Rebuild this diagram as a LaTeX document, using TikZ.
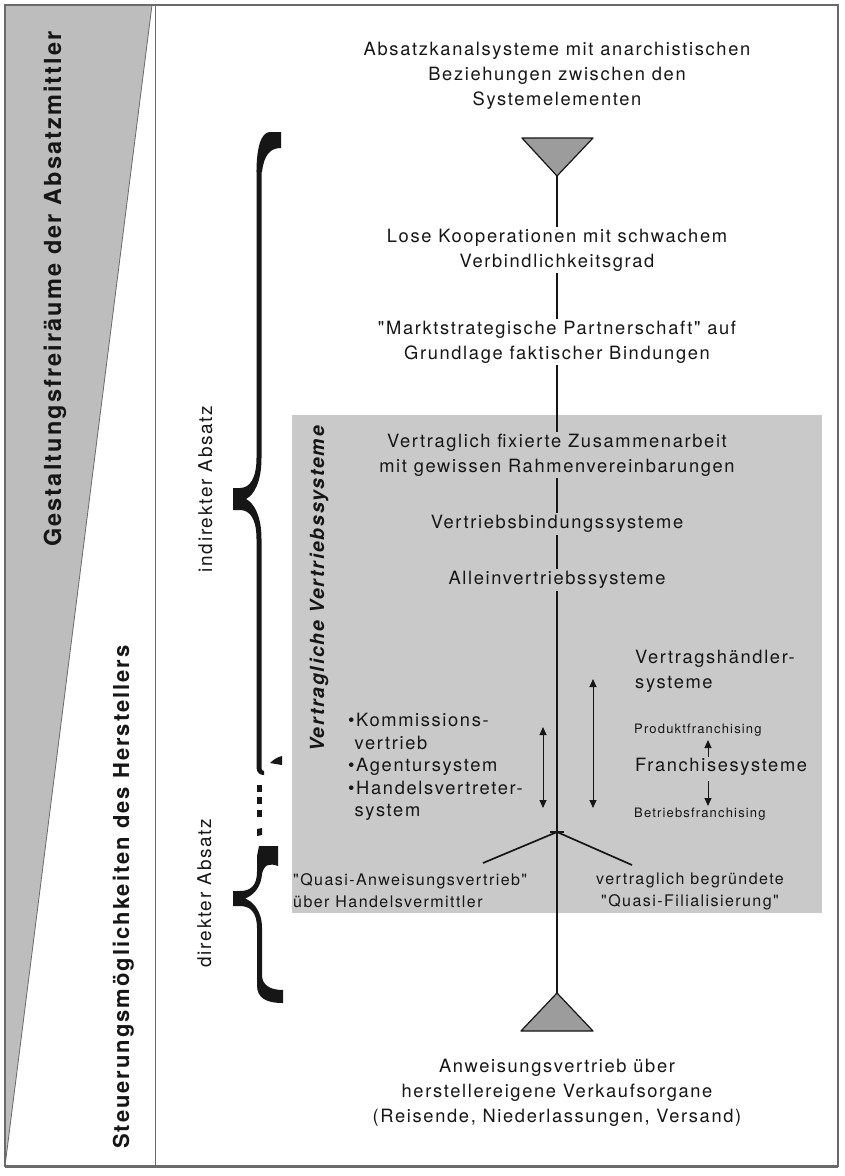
\documentclass[tikz,border=0pt]{standalone}
\usepackage{fontspec}
\setmainfont{TeX Gyre Heros}[LetterSpace=9, Ligatures=TeXOff]
\usetikzlibrary{arrows.meta}

\definecolor{ink}{HTML}{161616}
\definecolor{wedgegray}{HTML}{BDBDBD}
\definecolor{boxgray}{HTML}{C9C9C9}
\definecolor{trigray}{HTML}{9C9C9C}
\definecolor{framegray}{HTML}{6A6A6A}

\tikzset{
  txt/.style={font=\fontsize{18.3}{25}\selectfont, align=center, text=ink, inner sep=2pt},
  ontop/.style={txt, fill=white},
  inbox/.style={txt, fill=boxgray},
  smalltxt/.style={font=\fontsize{13}{15}\selectfont, text=ink, inner sep=1pt, anchor=west},
  quasitxt/.style={font=\fontsize{16}{22}\selectfont, text=ink, inner sep=1pt},
  vlabel/.style={rotate=90, font=\bfseries\fontsize{22}{26}\selectfont, text=ink, inner sep=0pt},
  sidelabel/.style={rotate=90, font=\fontsize{19}{22}\selectfont, text=ink, inner sep=0pt, anchor=base},
  boxlabel/.style={rotate=90, font=\bfseries\itshape\fontsize{19.5}{22}\selectfont, text=ink, inner sep=0pt, anchor=base},
  dblarrow/.style={line width=1pt, draw=ink, {Triangle[width=7pt,length=8pt]}-{Triangle[width=7pt,length=8pt]}},
  onearrow/.style={line width=1pt, draw=ink, -{Triangle[width=7pt,length=8pt]}},
  bracefill/.style={fill=ink},
}

\begin{document}
\begin{tikzpicture}[x=1pt,y=-1pt]
\useasboundingbox (0,0) rectangle (844,1176);
\fill[white] (0,0) rectangle (844,1176);

% left wedge and frame
\fill[wedgegray] (5,5) -- (152,5) -- (5,1166) -- cycle;
\draw[framegray, line width=0.8] (152,5) -- (5,1166);
\draw[framegray, line width=1.5] (5,5) rectangle (838,1166);
\draw[framegray, line width=3] (5,1166) -- (838,1166);
\draw[framegray, line width=1] (155,5) -- (155,1166);

% shaded area of contractual systems
\fill[boxgray] (292,415) rectangle (822,913);

% vertical scale line with its end triangles
\coordinate (topapex) at (557,176);
\coordinate (botapex) at (557,993);
\draw[ink, line width=2] (topapex) -- (botapex);
\filldraw[fill=trigray, draw=ink, line width=1.2, line join=round] (522,138) -- (593,138) -- (topapex) -- cycle;
\filldraw[fill=trigray, draw=ink, line width=1.2, line join=round] (521,1031) -- (593,1031) -- (botapex) -- cycle;

% side labels
\node[vlabel, anchor=base east, font=\bfseries\fontsize{23.5}{26}\selectfont] (gest) at (61,31) {Gestaltungsfreiräume der Absatzmittler};
\node[vlabel, anchor=base west] (steu) at (129,1149) {Steuerungsmöglichkeiten des Herstellers};
\node[sidelabel] (indirekt) at (212,489) {indirekter Absatz};
\node[sidelabel] (direkt) at (211,893) {direkter Absatz};
\node[boxlabel] (vertr) at (324,589) {Vertragliche Vertriebssysteme};

% stages along the scale
\node[ontop] (s1) at (557,76) {Absatzkanalsysteme mit anarchistischen\\Beziehungen zwischen den\\Systemelementen};
\node[ontop] (s2) at (557,250) {Lose Kooperationen mit schwachem\\Verbindlichkeitsgrad};
\node[ontop] (s3) at (557,342) {"Marktstrategische Partnerschaft" auf\\Grundlage faktischer Bindungen};
\node[inbox] (s4) at (557,455) {Vertraglich fixierte Zusammenarbeit\\mit gewissen Rahmenvereinbarungen};
\node[inbox] (s5) at (557,524) {Vertriebsbindungssysteme};
\node[inbox] (s6) at (557,580) {Alleinvertriebssysteme};
\node[ontop] (s7) at (557,1093) {Anweisungsvertrieb über\\herstellereigene Verkaufsorgane\\(Reisende, Niederlassungen, Versand)};

% right-hand group
\node[txt, align=left, anchor=west] (vh) at (633,671) {Vertragshändler-\\systeme};
\node[smalltxt] (pf) at (633,730) {Produktfranchising};
\node[txt, anchor=west] (fs) at (633,767) {Franchisesysteme};
\node[smalltxt] (bf) at (633,814) {Betriebsfranchising};
\coordinate (pfarrowtail) at (708,757);
\coordinate (pfarrowhead) at (708,740);
\coordinate (bfarrowtail) at (708,781);
\coordinate (bfarrowhead) at (708,806);
\draw[onearrow] (pfarrowtail) -- (pfarrowhead);
\draw[onearrow] (bfarrowtail) -- (bfarrowhead);
\coordinate (rtop) at (593,679);
\coordinate (rbot) at (593,808);
\draw[dblarrow] (rtop) -- (rbot);

% left-hand group
\node[txt, align=left, anchor=west, font=\fontsize{18.3}{22.5}\selectfont] (list) at (346,767)
  {•Kommissions-\\\phantom{•}vertrieb\\•Agentursystem\\•Handelsvertreter-\\\phantom{•}system};
\coordinate (ltop) at (543,727);
\coordinate (lbot) at (543,808);
\draw[dblarrow] (ltop) -- (lbot);

% fork towards the quasi forms
\coordinate (fork) at (557,832);
\coordinate (forkbarl) at (550,832);
\coordinate (forkbarr) at (564,832);
\coordinate (forkL) at (483,863);
\coordinate (forkR) at (632,865);
\draw[ink, line width=1.7, line join=round] (forkL) -- (fork) -- (forkR);
\draw[ink, line width=1.4] (forkbarl) -- (forkbarr);
\node[quasitxt, align=left, anchor=west] (qa) at (292,891) {"Quasi-Anweisungsvertrieb"\\über Handelsvermittler};
\node[quasitxt, align=center] (qf) at (690,891) {vertraglich begründete\\"Quasi-Filialisierung"};

% upper brace: indirect sales
\fill[bracefill] (270,132) -- (281,132) -- (281,148)
  .. controls (270,148) and (264,155) .. (262,172) -- (256.5,172)
  .. controls (256.5,148) and (261,132) .. (270,132) -- cycle;
\fill[bracefill] (256.5,170) -- (256.5,458)
  .. controls (256.5,478) and (250,488) .. (240,488) -- (233,488) -- (233,510) -- (240,510)
  .. controls (250,510) and (256.5,519) .. (256.5,539) -- (256.5,768)
  .. controls (257,773) and (260,775) .. (264,775) -- (264,771)
  .. controls (262,771) and (261.5,770) .. (261.5,766) -- (261.5,539)
  .. controls (261.5,516) and (254,503) .. (246,499)
  .. controls (254,495) and (261.5,482) .. (261.5,458) -- (261.5,170) -- cycle;
\fill[bracefill] (270,763) .. controls (274,759) and (278,757) .. (282,756) -- (282,765) -- cycle;

% interrupted part between the braces
\fill[bracefill] (256.5,785) rectangle (262,792);
\fill[bracefill] (256.5,797) rectangle (262,804);
\fill[bracefill] (256.5,810) rectangle (262,817);
\fill[bracefill] (257,829) -- (262,828) -- (262,835) -- (257,836) -- cycle;

% lower brace: direct sales
\fill[bracefill] (259,846) -- (278,846) -- (278,866)
  .. controls (270,863) and (264,864) .. (262,874) -- (257,874) -- (257,856) -- (259,846) -- cycle;
\fill[bracefill] (257,872)
  .. controls (257,886) and (250,891) .. (240,891) -- (233,891) -- (233,906) -- (240,906)
  .. controls (250,906) and (257,912) .. (257,928) -- (257,985)
  .. controls (257,998) and (266,1003) .. (283,1003) -- (283,990)
  .. controls (270,990) and (262,985) .. (262,975) -- (262,928)
  .. controls (262,910) and (252,901) .. (245,898.5)
  .. controls (252,896) and (262,888) .. (262,872) -- cycle;
\end{tikzpicture}
\end{document}
